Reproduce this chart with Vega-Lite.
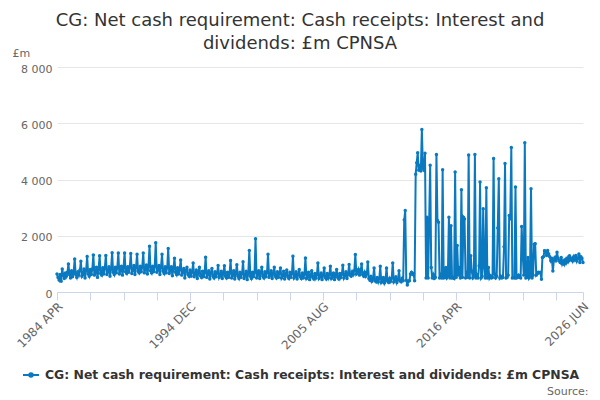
{
  "$schema": "https://vega.github.io/schema/vega-lite/v6.json",
  "autosize": {"type": "none"},
  "width": 526,
  "height": 225,
  "padding": {"left": 57, "top": 67, "right": 17, "bottom": 108},
  "config": {
    "view": {"stroke": null},
    "font": "DejaVu Sans"
  },
  "title": {
    "text": ["CG: Net cash requirement: Cash receipts: Interest and", "dividends: £m CPNSA"],
    "fontSize": 18,
    "fontWeight": "normal",
    "color": "#333333",
    "anchor": "middle",
    "frame": "group",
    "dx": -20,
    "dy": 7,
    "lineHeight": 23,
    "offset": 1
  },
  "data": {
    "format": {"parse": {"date": "date:'%Y-%m'"}},
    "values": [
{"date":"1984-04","value":640},{"date":"1984-05","value":520},{"date":"1984-06","value":430},{"date":"1984-07","value":620},{"date":"1984-08","value":380},{"date":"1984-09","value":820},{"date":"1984-10","value":600},{"date":"1984-11","value":480},{"date":"1984-12","value":680},
{"date":"1985-01","value":560},{"date":"1985-02","value":700},{"date":"1985-03","value":1000},{"date":"1985-04","value":620},{"date":"1985-05","value":500},{"date":"1985-06","value":760},{"date":"1985-07","value":540},{"date":"1985-08","value":680},{"date":"1985-09","value":1170},{"date":"1985-10","value":620},{"date":"1985-11","value":520},{"date":"1985-12","value":720},
{"date":"1986-01","value":600},{"date":"1986-02","value":780},{"date":"1986-03","value":1090},{"date":"1986-04","value":560},{"date":"1986-05","value":620},{"date":"1986-06","value":820},{"date":"1986-07","value":500},{"date":"1986-08","value":760},{"date":"1986-09","value":1260},{"date":"1986-10","value":640},{"date":"1986-11","value":560},{"date":"1986-12","value":800},
{"date":"1987-01","value":620},{"date":"1987-02","value":820},{"date":"1987-03","value":1320},{"date":"1987-04","value":600},{"date":"1987-05","value":680},{"date":"1987-06","value":880},{"date":"1987-07","value":520},{"date":"1987-08","value":800},{"date":"1987-09","value":1290},{"date":"1987-10","value":660},{"date":"1987-11","value":600},{"date":"1987-12","value":860},
{"date":"1988-01","value":640},{"date":"1988-02","value":860},{"date":"1988-03","value":1300},{"date":"1988-04","value":620},{"date":"1988-05","value":720},{"date":"1988-06","value":900},{"date":"1988-07","value":560},{"date":"1988-08","value":820},{"date":"1988-09","value":1400},{"date":"1988-10","value":700},{"date":"1988-11","value":620},{"date":"1988-12","value":880},
{"date":"1989-01","value":680},{"date":"1989-02","value":880},{"date":"1989-03","value":1390},{"date":"1989-04","value":640},{"date":"1989-05","value":760},{"date":"1989-06","value":920},{"date":"1989-07","value":600},{"date":"1989-08","value":860},{"date":"1989-09","value":1390},{"date":"1989-10","value":720},{"date":"1989-11","value":660},{"date":"1989-12","value":900},
{"date":"1990-01","value":700},{"date":"1990-02","value":900},{"date":"1990-03","value":1370},{"date":"1990-04","value":660},{"date":"1990-05","value":780},{"date":"1990-06","value":940},{"date":"1990-07","value":620},{"date":"1990-08","value":880},{"date":"1990-09","value":1340},{"date":"1990-10","value":740},{"date":"1990-11","value":680},{"date":"1990-12","value":920},
{"date":"1991-01","value":720},{"date":"1991-02","value":900},{"date":"1991-03","value":1390},{"date":"1991-04","value":680},{"date":"1991-05","value":800},{"date":"1991-06","value":960},{"date":"1991-07","value":640},{"date":"1991-08","value":900},{"date":"1991-09","value":1630},{"date":"1991-10","value":760},{"date":"1991-11","value":680},{"date":"1991-12","value":920},
{"date":"1992-01","value":720},{"date":"1992-02","value":920},{"date":"1992-03","value":1750},{"date":"1992-04","value":700},{"date":"1992-05","value":780},{"date":"1992-06","value":940},{"date":"1992-07","value":620},{"date":"1992-08","value":880},{"date":"1992-09","value":1340},{"date":"1992-10","value":740},{"date":"1992-11","value":660},{"date":"1992-12","value":900},
{"date":"1993-01","value":680},{"date":"1993-02","value":880},{"date":"1993-03","value":1550},{"date":"1993-04","value":660},{"date":"1993-05","value":760},{"date":"1993-06","value":900},{"date":"1993-07","value":580},{"date":"1993-08","value":840},{"date":"1993-09","value":1200},{"date":"1993-10","value":700},{"date":"1993-11","value":620},{"date":"1993-12","value":860},
{"date":"1994-01","value":640},{"date":"1994-02","value":820},{"date":"1994-03","value":1140},{"date":"1994-04","value":600},{"date":"1994-05","value":700},{"date":"1994-06","value":840},{"date":"1994-07","value":500},{"date":"1994-08","value":760},{"date":"1994-09","value":880},{"date":"1994-10","value":620},{"date":"1994-11","value":560},{"date":"1994-12","value":780},
{"date":"1995-01","value":560},{"date":"1995-02","value":720},{"date":"1995-03","value":1030},{"date":"1995-04","value":540},{"date":"1995-05","value":640},{"date":"1995-06","value":780},{"date":"1995-07","value":480},{"date":"1995-08","value":700},{"date":"1995-09","value":880},{"date":"1995-10","value":580},{"date":"1995-11","value":520},{"date":"1995-12","value":740},
{"date":"1996-01","value":540},{"date":"1996-02","value":700},{"date":"1996-03","value":1240},{"date":"1996-04","value":520},{"date":"1996-05","value":620},{"date":"1996-06","value":760},{"date":"1996-07","value":460},{"date":"1996-08","value":680},{"date":"1996-09","value":840},{"date":"1996-10","value":560},{"date":"1996-11","value":500},{"date":"1996-12","value":720},
{"date":"1997-01","value":540},{"date":"1997-02","value":680},{"date":"1997-03","value":940},{"date":"1997-04","value":520},{"date":"1997-05","value":600},{"date":"1997-06","value":740},{"date":"1997-07","value":480},{"date":"1997-08","value":660},{"date":"1997-09","value":930},{"date":"1997-10","value":560},{"date":"1997-11","value":500},{"date":"1997-12","value":700},
{"date":"1998-01","value":520},{"date":"1998-02","value":680},{"date":"1998-03","value":1120},{"date":"1998-04","value":500},{"date":"1998-05","value":600},{"date":"1998-06","value":760},{"date":"1998-07","value":460},{"date":"1998-08","value":660},{"date":"1998-09","value":970},{"date":"1998-10","value":560},{"date":"1998-11","value":480},{"date":"1998-12","value":700},
{"date":"1999-01","value":520},{"date":"1999-02","value":660},{"date":"1999-03","value":1080},{"date":"1999-04","value":480},{"date":"1999-05","value":580},{"date":"1999-06","value":740},{"date":"1999-07","value":440},{"date":"1999-08","value":660},{"date":"1999-09","value":1480},{"date":"1999-10","value":560},{"date":"1999-11","value":480},{"date":"1999-12","value":700},
{"date":"2000-01","value":540},{"date":"2000-02","value":700},{"date":"2000-03","value":1890},{"date":"2000-04","value":500},{"date":"2000-05","value":600},{"date":"2000-06","value":760},{"date":"2000-07","value":480},{"date":"2000-08","value":680},{"date":"2000-09","value":880},{"date":"2000-10","value":560},{"date":"2000-11","value":500},{"date":"2000-12","value":720},
{"date":"2001-01","value":540},{"date":"2001-02","value":700},{"date":"2001-03","value":1340},{"date":"2001-04","value":520},{"date":"2001-05","value":600},{"date":"2001-06","value":760},{"date":"2001-07","value":480},{"date":"2001-08","value":660},{"date":"2001-09","value":880},{"date":"2001-10","value":560},{"date":"2001-11","value":500},{"date":"2001-12","value":720},
{"date":"2002-01","value":520},{"date":"2002-02","value":680},{"date":"2002-03","value":850},{"date":"2002-04","value":500},{"date":"2002-05","value":580},{"date":"2002-06","value":740},{"date":"2002-07","value":460},{"date":"2002-08","value":640},{"date":"2002-09","value":780},{"date":"2002-10","value":540},{"date":"2002-11","value":480},{"date":"2002-12","value":700},
{"date":"2003-01","value":520},{"date":"2003-02","value":660},{"date":"2003-03","value":1270},{"date":"2003-04","value":500},{"date":"2003-05","value":560},{"date":"2003-06","value":720},{"date":"2003-07","value":460},{"date":"2003-08","value":620},{"date":"2003-09","value":800},{"date":"2003-10","value":540},{"date":"2003-11","value":480},{"date":"2003-12","value":680},
{"date":"2004-01","value":500},{"date":"2004-02","value":640},{"date":"2004-03","value":1210},{"date":"2004-04","value":480},{"date":"2004-05","value":540},{"date":"2004-06","value":700},{"date":"2004-07","value":440},{"date":"2004-08","value":600},{"date":"2004-09","value":760},{"date":"2004-10","value":520},{"date":"2004-11","value":460},{"date":"2004-12","value":660},
{"date":"2005-01","value":500},{"date":"2005-02","value":620},{"date":"2005-03","value":1035},{"date":"2005-04","value":480},{"date":"2005-05","value":540},{"date":"2005-06","value":680},{"date":"2005-07","value":440},{"date":"2005-08","value":600},{"date":"2005-09","value":857},{"date":"2005-10","value":520},{"date":"2005-11","value":460},{"date":"2005-12","value":660},
{"date":"2006-01","value":500},{"date":"2006-02","value":620},{"date":"2006-03","value":916},{"date":"2006-04","value":480},{"date":"2006-05","value":540},{"date":"2006-06","value":680},{"date":"2006-07","value":440},{"date":"2006-08","value":600},{"date":"2006-09","value":797},{"date":"2006-10","value":520},{"date":"2006-11","value":460},{"date":"2006-12","value":660},
{"date":"2007-01","value":520},{"date":"2007-02","value":640},{"date":"2007-03","value":952},{"date":"2007-04","value":500},{"date":"2007-05","value":580},{"date":"2007-06","value":720},{"date":"2007-07","value":480},{"date":"2007-08","value":640},{"date":"2007-09","value":975},{"date":"2007-10","value":600},{"date":"2007-11","value":560},{"date":"2007-12","value":720},
{"date":"2008-01","value":620},{"date":"2008-02","value":760},{"date":"2008-03","value":1330},{"date":"2008-04","value":640},{"date":"2008-05","value":700},{"date":"2008-06","value":800},{"date":"2008-07","value":600},{"date":"2008-08","value":720},{"date":"2008-09","value":1000},{"date":"2008-10","value":620},{"date":"2008-11","value":560},{"date":"2008-12","value":700},
{"date":"2009-01","value":560},{"date":"2009-02","value":640},{"date":"2009-03","value":1070},{"date":"2009-04","value":480},{"date":"2009-05","value":420},{"date":"2009-06","value":560},{"date":"2009-07","value":380},{"date":"2009-08","value":460},{"date":"2009-09","value":857},{"date":"2009-10","value":400},{"date":"2009-11","value":360},{"date":"2009-12","value":520},
{"date":"2010-01","value":360},{"date":"2010-02","value":480},{"date":"2010-03","value":916},{"date":"2010-04","value":340},{"date":"2010-05","value":400},{"date":"2010-06","value":520},{"date":"2010-07","value":320},{"date":"2010-08","value":420},{"date":"2010-09","value":857},{"date":"2010-10","value":380},{"date":"2010-11","value":340},{"date":"2010-12","value":480},
{"date":"2011-01","value":380},{"date":"2011-02","value":500},{"date":"2011-03","value":1035},{"date":"2011-04","value":360},{"date":"2011-05","value":420},{"date":"2011-06","value":540},{"date":"2011-07","value":340},{"date":"2011-08","value":440},{"date":"2011-09","value":760},{"date":"2011-10","value":400},{"date":"2011-11","value":360},{"date":"2011-12","value":480},
{"date":"2012-01","value":400},{"date":"2012-02","value":2565},{"date":"2012-03","value":2900},{"date":"2012-04","value":420},{"date":"2012-05","value":250},{"date":"2012-06","value":380},{"date":"2012-07","value":400},{"date":"2012-08","value":640},{"date":"2012-09","value":700},{"date":"2012-10","value":620},{"date":"2012-11","value":660},{"date":"2012-12","value":400},
{"date":"2013-01","value":4190},{"date":"2013-02","value":4600},{"date":"2013-03","value":4950},{"date":"2013-04","value":4330},{"date":"2013-05","value":4450},{"date":"2013-06","value":4300},{"date":"2013-07","value":5780},{"date":"2013-08","value":4400},{"date":"2013-09","value":4330},{"date":"2013-10","value":4930},{"date":"2013-11","value":500},{"date":"2013-12","value":2660},
{"date":"2014-01","value":500},{"date":"2014-02","value":2600},{"date":"2014-03","value":4510},{"date":"2014-04","value":870},{"date":"2014-05","value":500},{"date":"2014-06","value":620},{"date":"2014-07","value":480},{"date":"2014-08","value":520},{"date":"2014-09","value":4890},{"date":"2014-10","value":2540},{"date":"2014-11","value":2480},{"date":"2014-12","value":500},
{"date":"2015-01","value":600},{"date":"2015-02","value":500},{"date":"2015-03","value":4350},{"date":"2015-04","value":500},{"date":"2015-05","value":520},{"date":"2015-06","value":870},{"date":"2015-07","value":500},{"date":"2015-08","value":560},{"date":"2015-09","value":2660},{"date":"2015-10","value":500},{"date":"2015-11","value":2360},{"date":"2015-12","value":500},
{"date":"2016-01","value":520},{"date":"2016-02","value":480},{"date":"2016-03","value":4270},{"date":"2016-04","value":520},{"date":"2016-05","value":1650},{"date":"2016-06","value":600},{"date":"2016-07","value":870},{"date":"2016-08","value":500},{"date":"2016-09","value":3640},{"date":"2016-10","value":520},{"date":"2016-11","value":2660},{"date":"2016-12","value":2600},
{"date":"2017-01","value":500},{"date":"2017-02","value":640},{"date":"2017-03","value":520},{"date":"2017-04","value":4870},{"date":"2017-05","value":500},{"date":"2017-06","value":1290},{"date":"2017-07","value":750},{"date":"2017-08","value":500},{"date":"2017-09","value":560},{"date":"2017-10","value":4890},{"date":"2017-11","value":500},{"date":"2017-12","value":600},
{"date":"2018-01","value":500},{"date":"2018-02","value":930},{"date":"2018-03","value":3910},{"date":"2018-04","value":500},{"date":"2018-05","value":560},{"date":"2018-06","value":2960},{"date":"2018-07","value":870},{"date":"2018-08","value":500},{"date":"2018-09","value":3710},{"date":"2018-10","value":500},{"date":"2018-11","value":870},{"date":"2018-12","value":500},
{"date":"2019-01","value":580},{"date":"2019-02","value":500},{"date":"2019-03","value":520},{"date":"2019-04","value":4750},{"date":"2019-05","value":640},{"date":"2019-06","value":500},{"date":"2019-07","value":560},{"date":"2019-08","value":2280},{"date":"2019-09","value":4030},{"date":"2019-10","value":500},{"date":"2019-11","value":560},{"date":"2019-12","value":500},
{"date":"2020-01","value":520},{"date":"2020-02","value":1610},{"date":"2020-03","value":4570},{"date":"2020-04","value":500},{"date":"2020-05","value":520},{"date":"2020-06","value":600},{"date":"2020-07","value":2720},{"date":"2020-08","value":2600},{"date":"2020-09","value":5140},{"date":"2020-10","value":500},{"date":"2020-11","value":520},{"date":"2020-12","value":500},
{"date":"2021-01","value":3730},{"date":"2021-02","value":500},{"date":"2021-03","value":520},{"date":"2021-04","value":600},{"date":"2021-05","value":520},{"date":"2021-06","value":500},{"date":"2021-07","value":2330},{"date":"2021-08","value":1350},{"date":"2021-09","value":600},{"date":"2021-10","value":5310},{"date":"2021-11","value":500},{"date":"2021-12","value":520},
{"date":"2022-01","value":1230},{"date":"2022-02","value":500},{"date":"2022-03","value":560},{"date":"2022-04","value":3670},{"date":"2022-05","value":500},{"date":"2022-06","value":600},{"date":"2022-07","value":1700},{"date":"2022-08","value":1720},{"date":"2022-09","value":600},{"date":"2022-10","value":650},{"date":"2022-11","value":700},{"date":"2022-12","value":680},
{"date":"2023-01","value":700},{"date":"2023-02","value":450},{"date":"2023-03","value":1230},{"date":"2023-04","value":1250},{"date":"2023-05","value":1470},{"date":"2023-06","value":1450},{"date":"2023-07","value":1300},{"date":"2023-08","value":1480},{"date":"2023-09","value":1350},{"date":"2023-10","value":1250},{"date":"2023-11","value":1110},{"date":"2023-12","value":1200},
{"date":"2024-01","value":750},{"date":"2024-02","value":1150},{"date":"2024-03","value":1230},{"date":"2024-04","value":1100},{"date":"2024-05","value":1410},{"date":"2024-06","value":1200},{"date":"2024-07","value":1110},{"date":"2024-08","value":1050},{"date":"2024-09","value":1230},{"date":"2024-10","value":1000},{"date":"2024-11","value":1100},{"date":"2024-12","value":990},
{"date":"2025-01","value":1150},{"date":"2025-02","value":1050},{"date":"2025-03","value":1200},{"date":"2025-04","value":1100},{"date":"2025-05","value":1290},{"date":"2025-06","value":1150},{"date":"2025-07","value":1200},{"date":"2025-08","value":1100},{"date":"2025-09","value":1250},{"date":"2025-10","value":1150},{"date":"2025-11","value":1300},{"date":"2025-12","value":1100},
{"date":"2026-01","value":1200},{"date":"2026-02","value":1350},{"date":"2026-03","value":1050},{"date":"2026-04","value":1250},{"date":"2026-05","value":1200},{"date":"2026-06","value":1050}
    ]
  },
  "mark": {
    "type": "line",
    "strokeWidth": 2,
    "point": {"filled": true, "size": 12}
  },
  "encoding": {
    "x": {
      "field": "date",
      "type": "temporal",
      "scale": {"domain": [{"year": 1984, "month": 4, "date": 1}, {"year": 2026, "month": 6, "date": 1}]},
      "axis": {
        "values": [
          {"year": 1984, "month": 4, "date": 1}, {"year": 1986, "month": 12, "date": 1}, {"year": 1989, "month": 8, "date": 1},
          {"year": 1992, "month": 4, "date": 1}, {"year": 1994, "month": 12, "date": 1}, {"year": 1997, "month": 8, "date": 1},
          {"year": 2000, "month": 4, "date": 1}, {"year": 2002, "month": 12, "date": 1}, {"year": 2005, "month": 8, "date": 1},
          {"year": 2008, "month": 4, "date": 1}, {"year": 2010, "month": 12, "date": 1}, {"year": 2013, "month": 8, "date": 1},
          {"year": 2016, "month": 4, "date": 1}, {"year": 2018, "month": 12, "date": 1}, {"year": 2021, "month": 8, "date": 1},
          {"year": 2024, "month": 4, "date": 1}, {"year": 2026, "month": 6, "date": 1}
        ],
        "labelExpr": "indexof(['1984-04','1994-12','2005-08','2016-04','2026-06'], timeFormat(datum.value, '%Y-%m')) >= 0 ? upper(timeFormat(datum.value, '%Y %b')) : ''",
        "labelAngle": -45,
        "labelAlign": "right",
        "labelBaseline": "middle",
        "labelPadding": 4,
        "labelOffset": 3,
        "labelOverlap": false,
        "labelFlush": false,
        "labelColor": "#666666",
        "labelFontSize": 12,
        "grid": false,
        "domainColor": "#ccd6eb",
        "tickColor": "#ccd6eb",
        "tickSize": 8,
        "title": "Source:",
        "titleX": 531,
        "titleY": 102,
        "titleAlign": "right",
        "titleAnchor": "end",
        "titleBaseline": "alphabetic",
        "titleFontWeight": "normal",
        "titleFontSize": 11,
        "titleColor": "#666666"
      }
    },
    "y": {
      "field": "value",
      "type": "quantitative",
      "scale": {"domain": [0, 8000], "nice": false},
      "axis": {
        "values": [0, 2000, 4000, 6000, 8000],
        "labelExpr": "replace(format(datum.value, ','), ',', ' ')",
        "domain": false,
        "ticks": false,
        "gridColor": "#e6e6e6",
        "labelColor": "#666666",
        "labelFontSize": 11,
        "labelPadding": 5,
        "labelOffset": 2,
        "title": "£m",
        "titleAngle": 0,
        "titleX": -45,
        "titleY": -11,
        "titleAlign": "left",
        "titleAnchor": "start",
        "titleBaseline": "alphabetic",
        "titleFontWeight": "normal",
        "titleFontSize": 11,
        "titleColor": "#666666"
      }
    },
    "color": {
      "datum": "CG: Net cash requirement: Cash receipts: Interest and dividends: £m CPNSA",
      "type": "nominal",
      "scale": {"range": ["#0a79c0"]},
      "legend": {
        "title": null,
        "orient": "none",
        "legendX": -35,
        "legendY": 299,
        "padding": 0,
        "symbolType": "M-1,0L1,0M-0.22,0a0.22,0.22 0 1,0 0.44,0a0.22,0.22 0 1,0 -0.44,0",
        "symbolSize": 256,
        "symbolStrokeWidth": 2,
        "symbolFillColor": "#0a79c0",
        "symbolStrokeColor": "#0a79c0",
        "labelFontSize": 12.4,
        "labelFontWeight": "bold",
        "labelColor": "#333333",
        "labelOffset": 5,
        "labelLimit": 0
      }
    }
  }
}
